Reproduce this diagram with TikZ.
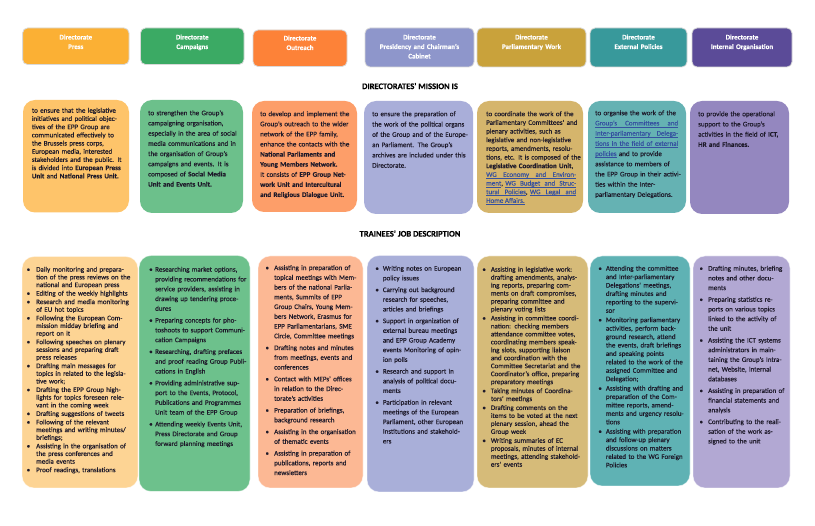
\documentclass[tikz,border=0pt]{standalone}
\usepackage{fontspec}
\setmainfont{Carlito}[UprightFeatures={FakeBold=0.3},BoldFeatures={FakeBold=0.3}]
\usetikzlibrary{calc}
\definecolor{hPress}{HTML}{FBB034}
\definecolor{hCamp}{HTML}{3BAA64}
\definecolor{hOut}{HTML}{FD8238}
\definecolor{hPres}{HTML}{8E96CB}
\definecolor{hParl}{HTML}{C9A23B}
\definecolor{hExt}{HTML}{38999B}
\definecolor{hInt}{HTML}{5B4B98}
\definecolor{mPress}{HTML}{FEC46A}
\definecolor{mCamp}{HTML}{6CC08B}
\definecolor{mOut}{HTML}{FD9E69}
\definecolor{mPres}{HTML}{A9AED9}
\definecolor{mParl}{HTML}{D5B56C}
\definecolor{mExt}{HTML}{65B2B3}
\definecolor{mInt}{HTML}{9487BF}
\definecolor{jPress}{HTML}{FDD494}
\definecolor{jCamp}{HTML}{6DC18C}
\definecolor{jOut}{HTML}{FCB894}
\definecolor{jPres}{HTML}{A9AFD9}
\definecolor{jParl}{HTML}{D6BB79}
\definecolor{jExt}{HTML}{5FB2B4}
\definecolor{jInt}{HTML}{B2A8D3}
\definecolor{txt}{HTML}{1E1A2A}
\definecolor{lnk}{HTML}{3550A0}
\newdimen\myind \newdimen\myisep \newdimen\mybgap
\newcommand\JL[1]{\moveright\myind\hbox to\dimexpr\hsize-\myind\relax{\strut#1}}
\newcommand\EL[1]{\moveright\myind\hbox to\dimexpr\hsize-\myind\relax{\strut#1\hfil}}
\newcommand\BJL[1]{\vskip\myisep\JL{\llap{\textbullet\hskip\mybgap}#1}}
\newcommand\BEL[1]{\vskip\myisep\EL{\llap{\textbullet\hskip\mybgap}#1}}
\newcommand\TB[1]{\vtop{#1}}
\def\lkword#1{\setbox0\hbox{#1}\rlap{\vrule height-1.1pt depth1.55pt width\wd0}\box0 }
\def\lkspace{\leaders\hrule height-1.1pt depth1.55pt\hskip\fontdimen2\font plus\fontdimen3\font minus\fontdimen4\font\relax}
\def\lkA#1 #2\lkEnd{\lkword{#1}\if\relax\detokenize{#2}\relax\else\lkspace\lkA#2\lkEnd\fi}
\newcommand\LK[1]{{\color{lnk}\lkA#1 \lkEnd}}
\newcommand\bx[7]{\node[#1, fill=#2, minimum width={#5-#3}, minimum height={#6-#4}] (#7) at ({(#3+#5)/2},{(#4+#6)/2}) {};}
\tikzset{
  hd/.style={rectangle, rounded corners=5pt, inner sep=0pt, draw=white!70!gray, line width=0.8pt},
  mb/.style={rectangle, rounded corners=12pt, inner sep=0pt, draw=none},
  jb/.style={rectangle, rounded corners=12pt, inner sep=0pt, draw=white, draw opacity=0.5, line width=0.8pt},
  htx/.style={anchor=north, inner sep=0pt, align=center, text=white, font=\fontsize{7}{9.5}\selectfont\bfseries},
  mt/.style={anchor=north west, inner sep=0pt, text=txt},
  ttl/.style={inner sep=0pt, font=\fontsize{8.5}{10}\selectfont\bfseries, text=black}
}
\begin{document}
\begin{tikzpicture}[x=1pt,y=-1pt]
\fill[white] (0,0) rectangle (815,526);
\useasboundingbox (0,0) rectangle (815,526);
% headers
\bx{hd}{hPress}{22.6}{28}{129}{64.5}{h1}
\bx{hd}{hCamp}{140.5}{28}{244}{64.5}{h2}
\bx{hd}{hOut}{253}{30}{347}{66.5}{h3}
\bx{hd}{hPres}{365}{28}{474}{67}{h4}
\bx{hd}{hParl}{477}{28}{586}{67}{h5}
\bx{hd}{hExt}{590}{28}{687}{67}{h6}
\bx{hd}{hInt}{692}{28}{792}{67}{h7}
\node[htx, text width=100] (ht1) at (h1.center |- 0,32.65) {\strut Directorate\\Press};
\node[htx, text width=100] (ht2) at (h2.center |- 0,32.65) {\strut Directorate\\Campaigns};
\node[htx, text width=90] (ht3) at (h3.center |- 0,33.65) {\strut Directorate\\Outreach};
\node[htx, text width=105] (ht4) at (h4.center |- 0,32.65) {\strut Directorate\\Presidency and Chairman's\\Cabinet};
\node[htx, text width=105] (ht5) at (h5.center |- 0,32.65) {\strut Directorate\\Parliamentary Work};
\node[htx, text width=95] (ht6) at (h6.center |- 0,32.65) {\strut Directorate\\External Policies};
\node[htx, text width=98] (ht7) at (h7.center |- 0,32.65) {\strut Directorate\\Internal Organisation};
% titles
\node[ttl] (tt1) at (410,86) {DIRECTORATES' MISSION IS};
\node[ttl] (tt2) at (410,233.5) {TRAINEES' JOB DESCRIPTION};
% mission boxes
\bx{mb}{mPress}{23}{100}{129}{212.5}{m1}
\bx{mb}{mCamp}{140}{100}{243}{213}{m2}
\bx{mb}{mOut}{252}{101}{357}{212}{m3}
\bx{mb}{mPres}{364}{101}{473}{214}{m4}
\bx{mb}{mParl}{477}{101}{583}{213}{m5}
\bx{mb}{mExt}{588}{101}{686}{213}{m6}
\bx{mb}{mInt}{690}{101}{789}{214}{m7}
\node[mt, text width=88.5, font=\fontsize{7}{8.2}\selectfont] (mt1) at (31.7,106.8) {\TB{%
\JL{to ensure that the legislative}
\JL{initiatives and political objec-}
\JL{tives of the EPP Group are}
\JL{communicated effectively to}
\JL{the Brussels press corps,}
\JL{European media, interested}
\JL{stakeholders and the public. It}
\JL{is divided into \textbf{European Press}}
\EL{\textbf{Unit} and \textbf{National Press Unit.}}}};
\node[mt, text width=87, font=\fontsize{7}{10.2}\selectfont] (mt2) at (148,107.9) {\TB{%
\JL{to strengthen the Group's}
\JL{campaigning organisation,}
\JL{especially in the area of social}
\JL{media communications and in}
\JL{the organisation of Group's}
\JL{campaigns and events. It is}
\JL{composed of \textbf{Social Media}}
\EL{\textbf{Unit and Events Unit.}}}};
\node[mt, text width=89, font=\fontsize{7}{10.1}\selectfont] (mt3) at (260,108.9) {\TB{%
\JL{to develop and implement the}
\JL{Group's outreach to the wider}
\JL{network of the EPP family,}
\JL{enhance the contacts with the}
\JL{\textbf{National Parliaments and}}
\EL{\textbf{Young Members Network.}}
\JL{It consists of \textbf{EPP Group Net-}}
\JL{\textbf{work Unit and Intercultural}}
\EL{\textbf{and Religious Dialogue Unit.}}}};
\node[mt, text width=91, font=\fontsize{7}{10.3}\selectfont] (mt4) at (372,108.8) {\TB{%
\JL{to ensure the preparation of}
\JL{the work of the political organs}
\JL{of the Group and of the Europe-}
\JL{an Parliament. The Group's}
\JL{archives are included under this}
\EL{Directorate.}}};
\node[mt, text width=90, font=\fontsize{7}{8.67}\selectfont] (mt5) at (486,109.9) {\TB{%
\JL{to coordinate the work of the}
\JL{Parliamentary Committees' and}
\JL{plenary activities, such as}
\JL{legislative and non-legislative}
\JL{reports, amendments, resolu-}
\JL{tions, etc. It is composed of the}
\JL{\textbf{Legislative Coordination Unit},}
\JL{\LK{WG Economy and Environ-}}
\JL{\LK{ment}, \LK{WG Budget and Struc-}}
\JL{\LK{tural Policies}, \LK{WG Legal and}}
\EL{\LK{Home Affairs.}}}};
\node[mt, text width=83, font=\fontsize{7}{10.2}\selectfont] (mt6) at (595,107.9) {\TB{%
\JL{to organise the work of the}
\JL{\LK{Group's Committees and}}
\JL{\LK{Inter-parliamentary Delega-}}
\JL{\LK{tions in the field of external}}
\JL{\LK{policies} and to provide}
\JL{assistance to members of}
\JL{the EPP Group in their activi-}
\JL{ties within the Inter-}
\EL{parliamentary Delegations.}}};
\node[mt, text width=83, font=\fontsize{7}{10.2}\selectfont] (mt7) at (698,108.9) {\TB{%
\JL{to provide the operational}
\JL{support to the Group's}
\JL{activities in the field of \textbf{ICT,}}
\EL{\textbf{HR and Finances.}}}};
% job boxes
\bx{jb}{jPress}{22}{256.5}{138}{488}{j1}
\bx{jb}{jCamp}{139}{255.5}{250}{491.5}{j2}
\bx{jb}{jOut}{258}{256}{363}{488}{j3}
\bx{jb}{jPres}{367}{255.5}{474}{492}{j4}
\bx{jb}{jParl}{477}{256}{588}{488}{j5}
\bx{jb}{jExt}{590}{256}{690}{486}{j6}
\bx{jb}{jInt}{693}{256}{790}{488}{j7}
\node[mt, text width=100.5, font=\fontsize{7}{7.7}\selectfont] (jt1) at (28,265.3) {\TB{%
\myind=8pt\myisep=0.8pt\mybgap=6pt
\BJL{Daily monitoring and prepara-}
\JL{tion of the press reviews on the}
\EL{national and European press}
\BEL{Editing of the weekly highlights}
\BJL{Research and media monitoring}
\EL{of EU hot topics}
\BJL{Following the European Com-}
\JL{mission midday briefing and}
\EL{report on it}
\BJL{Following speeches on plenary}
\JL{sessions and preparing draft}
\EL{press releases}
\BJL{Drafting main messages for}
\JL{topics in related to the legisla-}
\EL{tive work;}
\BJL{Drafting the EPP Group high-}
\JL{lights for topics foreseen rele-}
\EL{vant in the coming week}
\BEL{Drafting suggestions of tweets}
\BJL{Following of the relevant}
\JL{meetings and writing minutes/}
\EL{briefings;}
\BJL{Assisting in the organisation of}
\JL{the press conferences and}
\EL{media events}
\BEL{Proof readings, translations}}};
\node[mt, text width=100.5, font=\fontsize{7}{9.78}\selectfont] (jt2) at (147,262.65) {\TB{%
\myind=8pt\myisep=2pt\mybgap=2.5pt
\BJL{Researching market options,}
\JL{providing recommendations for}
\JL{service providers, assisting in}
\JL{drawing up tendering proce-}
\EL{dures}
\BJL{Preparing concepts for pho-}
\JL{toshoots to support Communi-}
\EL{cation Campaigns}
\BJL{Researching, drafting prefaces}
\JL{and proof reading Group Publi-}
\EL{cations in English}
\BJL{Providing administrative sup-}
\JL{port to the Events, Protocol,}
\JL{Publications and Programmes}
\EL{Unit team of the EPP Group}
\BJL{Attending weekly Events Unit,}
\JL{Press Directorate and Group}
\EL{forward planning meetings}}};
\node[mt, text width=90, font=\fontsize{7}{9.75}\selectfont] (jt3) at (266,261) {\TB{%
\myind=8pt\myisep=2pt\mybgap=5.2pt
\BJL{Assisting in preparation of}
\JL{topical meetings with Mem-}
\JL{bers of the national Parlia-}
\JL{ments, Summits of EPP}
\JL{Group Chairs, Young Mem-}
\JL{bers Network, Erasmus for}
\JL{EPP Parliamentarians, SME}
\EL{Circle, Committee meetings}
\BJL{Drafting notes and minutes}
\JL{from meetings, events and}
\EL{conferences}
\BJL{Contact with MEPs' offices}
\JL{in relation to the Direc-}
\EL{torate's activities}
\BJL{Preparation of briefings,}
\EL{background research}
\BJL{Assisting in the organisation}
\EL{of thematic events}
\BJL{Assisting in preparation of}
\JL{publications, reports and}
\EL{newsletters}}};
\node[mt, text width=90, font=\fontsize{7}{9.69}\selectfont] (jt4) at (374.7,261.7) {\TB{%
\myind=8pt\myisep=2pt\mybgap=4pt
\BJL{Writing notes on European}
\EL{policy issues}
\BJL{Carrying out background}
\JL{research for speeches,}
\EL{articles and briefings}
\BJL{Support in organization of}
\JL{external bureau meetings}
\JL{and EPP Group Academy}
\JL{events Monitoring of opin-}
\EL{ion polls}
\BJL{Research and support in}
\JL{analysis of political docu-}
\EL{ments}
\BJL{Participation in relevant}
\JL{meetings of the European}
\JL{Parliament, other European}
\JL{Institutions and stakehold-}
\EL{ers}}};
\node[mt, text width=99.6, font=\fontsize{7}{7.96}\selectfont] (jt5) at (482.7,264.9) {\TB{%
\myind=8pt\myisep=1pt\mybgap=5pt
\BJL{Assisting in legislative work:}
\JL{drafting amendments, analys-}
\JL{ing reports, preparing com-}
\JL{ments on draft compromises,}
\JL{preparing committee and}
\EL{plenary voting lists}
\BJL{Assisting in committee coordi-}
\JL{nation: checking members}
\JL{attendance committee votes,}
\JL{coordinating members speak-}
\JL{ing slots, supporting liaison}
\JL{and coordination with the}
\JL{Committee Secretariat and the}
\JL{Coordinator's office, preparing}
\EL{preparatory meetings}
\BJL{Taking minutes of Coordina-}
\EL{tors' meetings}
\BJL{Drafting comments on the}
\JL{items to be voted at the next}
\JL{plenary session, ahead the}
\EL{Group week}
\BJL{Writing summaries of EC}
\JL{proposals, minutes of internal}
\JL{meetings, attending stakehold-}
\EL{ers' events}}};
\node[mt, text width=83.6, font=\fontsize{7}{8.42}\selectfont] (jt6) at (598.7,263.6) {\TB{%
\myind=7pt\myisep=1pt\mybgap=4pt
\BJL{Attending the committee}
\JL{and Inter-parliamentary}
\JL{Delegations' meetings,}
\JL{drafting minutes and}
\JL{reporting to the supervi-}
\EL{sor}
\BJL{Monitoring parliamentary}
\JL{activities, perform back-}
\JL{ground research, attend}
\JL{the events, draft briefings}
\JL{and speaking points}
\JL{related to the work of the}
\JL{assigned Committee and}
\EL{Delegation;}
\BJL{Assisting with drafting and}
\JL{preparation of the Com-}
\JL{mittee reports, amend-}
\JL{ments and urgency resolu-}
\EL{tions}
\BJL{Assisting with preparation}
\JL{and follow-up plenary}
\JL{discussions on matters}
\JL{related to the WG Foreign}
\EL{Policies}}};
\node[mt, text width=82.7, font=\fontsize{7}{9.69}\selectfont] (jt7) at (701,261.7) {\TB{%
\myind=7pt\myisep=2pt\mybgap=5.2pt
\BJL{Drafting minutes, briefing}
\JL{notes and other docu-}
\EL{ments}
\BJL{Preparing statistics re-}
\JL{ports on various topics}
\JL{linked to the activity of}
\EL{the unit}
\BJL{Assisting the ICT systems}
\JL{administrators in main-}
\JL{taining the Group's Intra-}
\JL{net, Website, internal}
\EL{databases}
\BJL{Assisting in preparation of}
\JL{financial statements and}
\EL{analysis}
\BJL{Contributing to the reali-}
\JL{sation of the work as-}
\EL{signed to the unit}}};
\end{tikzpicture}
\end{document}
